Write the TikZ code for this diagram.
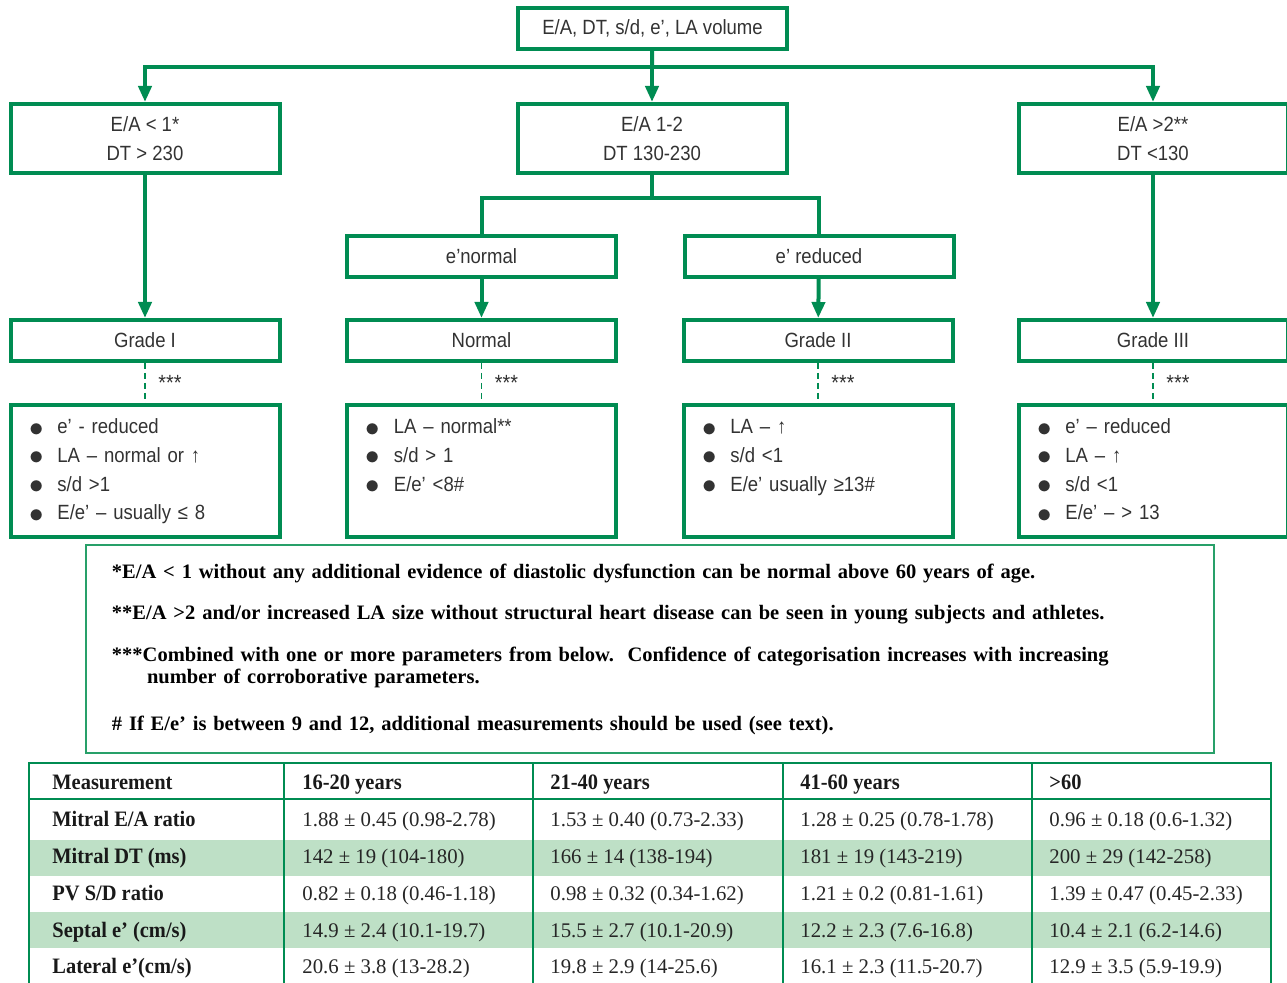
\documentclass[tikz,border=0pt]{standalone}
\usepackage{fontspec}
\usetikzlibrary{arrows.meta}
\setmainfont{Liberation Sans}
\newfontfamily\condfont[FakeStretch=0.9]{Liberation Sans}
\newfontfamily\notefont{Liberation Serif}
\newfontfamily\tabbold[FakeStretch=0.93]{Liberation Serif}
\newfontfamily\tabnum{Liberation Serif}

\definecolor{dgreen}{RGB}{0,140,82}
\definecolor{lgreen}{RGB}{40,160,105}
\definecolor{rowshade}{RGB}{190,224,198}
\definecolor{txt}{RGB}{50,50,50}

\newcommand{\bul}{\strut\raisebox{-1.2pt}{\fontsize{15}{15}\selectfont$\bullet$}\hspace{7pt}}

\tikzset{
  box/.style={draw=dgreen, line width=2pt, minimum width=134.5pt, inner sep=0pt,
    text=txt, font=\condfont\fontsize{10.3}{14.35}\selectfont, align=center},
  single/.style={box, minimum height=20.5pt},
  double/.style={box, minimum height=34.5pt},
  listbox/.style={box, minimum height=66pt, text width=116pt, align=left},
  link/.style={draw=dgreen, line width=2pt},
  arr/.style={link, -{Triangle[width=6.5pt,length=8pt]}},
  dashlink/.style={draw=dgreen, line width=0.8pt, dash pattern=on 3pt off 2pt},
  stars/.style={text=txt, font=\condfont\fontsize{11}{12}\selectfont, xshift=3pt},
  notebox/.style={draw=lgreen, line width=1pt, minimum width=564pt, minimum height=104pt,
    text width=538pt, align=left, inner sep=0pt,
    font=\notefont\bfseries\fontsize{10.25}{11}\selectfont},
  tabline/.style={draw=dgreen, line width=1pt},
  headcell/.style={anchor=base west, inner sep=0pt, text=black!90,
    font=\tabbold\bfseries\fontsize{11}{13}\selectfont},
  numcell/.style={anchor=base west, inner sep=0pt, text=black!85,
    font=\tabnum\fontsize{10.4}{12}\selectfont},
}

\begin{document}
\begin{tikzpicture}[x=0.5pt, y=-0.5pt]
\useasboundingbox (0,0) rectangle (1287,983);

% flowchart boxes
\node[single] (start) at (652.5,28.5) {E/A, DT, s/d, e’, LA volume};
\node[double] (ea1) at (145,138.5) {E/A < 1*\\DT > 230};
\node[double] (ea2) at (652,138.5) {E/A 1-2\\DT 130-230};
\node[double] (ea3) at (1153,138.5) {E/A >2**\\DT <130};
\node[single] (enorm) at (481.5,256.5) {e’normal};
\node[single] (ered) at (819,256.5) {e’ reduced};
\node[single] (g1) at (145,340.5) {Grade I};
\node[single] (norm) at (481.5,340.5) {Normal};
\node[single] (g2) at (818,340.5) {Grade II};
\node[single] (g3) at (1153,340.5) {Grade III};

\node[listbox] (l1) at (145,471) {\bul e’ - reduced\\ \bul LA – normal or ↑\\ \bul s/d >1\\ \bul E/e’ – usually ≤ 8};
\node[listbox] (l2) at (481.5,471) {\bul LA – normal**\\ \bul s/d > 1\\ \bul E/e’ <8\#\\ \strut};
\node[listbox] (l3) at (818,471) {\bul LA – ↑\\ \bul s/d <1\\ \bul E/e’ usually ≥13\#\\ \strut};
\node[listbox] (l4) at (1153,471) {\bul e’ – reduced\\ \bul LA – ↑\\ \bul s/d <1\\ \bul E/e’ – > 13};

% connectors
\coordinate (split) at (652,67);
\coordinate (fork) at (652,198);
\draw[link] (start) -- (split);
\draw[arr] (split) -| (ea1.north);
\draw[arr] (split) -- (ea2);
\draw[arr] (split) -| (ea3.north);
\draw[link] (ea2) -- (fork);
\draw[link] (fork) -| (enorm.north);
\draw[link] (fork) -| (ered.north);
\draw[arr] (ea1) -- (g1);
\draw[arr] (enorm) -- (norm);
\draw[arr] (ered) -- (g2);
\draw[arr] (ea3) -- (g3);
\foreach \g/\l in {g1/l1, norm/l2, g2/l3, g3/l4}
  \draw[dashlink] (\g) -- node[stars, right] (s-\g) {***} (\l);

% footnotes
\node[notebox] (notes) at (650,649) {*E/A < 1 without any additional evidence of diastolic dysfunction can be normal above 60 years of age.\\[9.5pt]
**E/A >2 and/or increased LA size without structural heart disease can be seen in young subjects and athletes.\\[10pt]
***Combined with one or more parameters from below.\ \ Confidence of categorisation increases with increasing\\
\hspace*{17.5pt}number of corroborative parameters.\\[12.5pt]
\# If E/e’ is between 9 and 12, additional measurements should be used (see text).};

% table
\fill[rowshade] (29,840) rectangle (1271,876);
\fill[rowshade] (29,912) rectangle (1271,948);
\draw[tabline] (29,763) rectangle (1271,992);
\draw[tabline] (29,799) -- (1271,799);
\foreach \x in {284,533,783,1032}
  \draw[tabline] (\x,763) -- (\x,992);

\node[headcell] (h0) at (52,790) {Measurement};
\foreach \x/\t [count=\i] in {302/16-20 years, 550/21-40 years, 800/41-60 years, 1049/>60}
  \node[headcell] (h\i) at (\x,790) {\t};

\foreach \y/\m/\a/\b/\c/\d [count=\r] in {
  827/{Mitral E/A ratio}/{1.88 ± 0.45 (0.98-2.78)}/{1.53 ± 0.40 (0.73-2.33)}/{1.28 ± 0.25 (0.78-1.78)}/{0.96 ± 0.18 (0.6-1.32)},
  864/{Mitral DT (ms)}/{142 ± 19 (104-180)}/{166 ± 14 (138-194)}/{181 ± 19 (143-219)}/{200 ± 29 (142-258)},
  901/{PV S/D ratio}/{0.82 ± 0.18 (0.46-1.18)}/{0.98 ± 0.32 (0.34-1.62)}/{1.21 ± 0.2 (0.81-1.61)}/{1.39 ± 0.47 (0.45-2.33)},
  938/{Septal e’ (cm/s)}/{14.9 ± 2.4 (10.1-19.7)}/{15.5 ± 2.7 (10.1-20.9)}/{12.2 ± 2.3 (7.6-16.8)}/{10.4 ± 2.1 (6.2-14.6)},
  974/{Lateral e’(cm/s)}/{20.6 ± 3.8 (13-28.2)}/{19.8 ± 2.9 (14-25.6)}/{16.1 ± 2.3 (11.5-20.7)}/{12.9 ± 3.5 (5.9-19.9)}} {
  \node[headcell] (m\r) at (52,\y) {\m};
  \node[numcell] (a\r) at (302,\y) {\a};
  \node[numcell] (b\r) at (550,\y) {\b};
  \node[numcell] (c\r) at (800,\y) {\c};
  \node[numcell] (d\r) at (1049,\y) {\d};
}
\end{tikzpicture}
\end{document}
